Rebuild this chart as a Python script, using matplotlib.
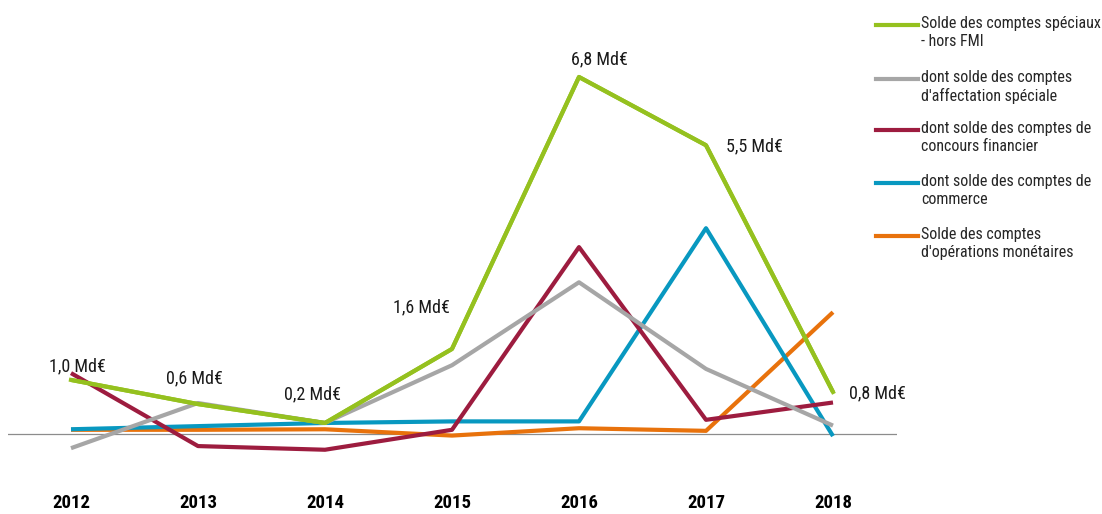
import matplotlib.pyplot as plt
from matplotlib.lines import Line2D
from matplotlib import font_manager

# data (Md€)
years = [2012, 2013, 2014, 2015, 2016, 2017, 2018]
speciaux = [1.03, 0.57, 0.21, 1.62, 6.8, 5.5, 0.8]
affectation = [-0.27, 0.59, 0.21, 1.31, 2.89, 1.24, 0.16]
concours = [1.16, -0.23, -0.30, 0.08, 3.56, 0.27, 0.60]
commerce = [0.09, 0.15, 0.21, 0.24, 0.24, 3.92, -0.04]
monetaires = [0.08, 0.08, 0.09, -0.03, 0.11, 0.06, 2.32]
value_labels = ["1,0 Md€", "0,6 Md€", "0,2 Md€", "1,6 Md€", "6,8 Md€", "5,5 Md€", "0,8 Md€"]
legend_labels = ["Solde des comptes spéciaux\n- hors FMI",
                 "dont solde des comptes\nd'affectation spéciale",
                 "dont solde des comptes de\nconcours financier",
                 "dont solde des comptes de\ncommerce",
                 "Solde des comptes\nd'opérations monétaires"]

colors = ["#95c11f", "#a6a6a6", "#9d1c3f", "#0898c0", "#e8720c"]

# look for a narrow font, the original uses Arial Narrow
installed = sorted({f.name for f in font_manager.fontManager.ttflist})
narrow = None
for cand in ["Liberation Sans Narrow", "Arial Narrow", "Roboto Condensed",
             "Open Sans Condensed", "Noto Sans Condensed", "DejaVu Sans Condensed"]:
    if cand in installed:
        narrow = cand
        break
if narrow is None:
    for n in installed:
        if "Narrow" in n or "Condensed" in n:
            narrow = n
            break
if narrow is None:
    narrow = "Roboto"
    k = 0.8
else:
    k = 1.0
NARROW = [narrow, "DejaVu Sans"]

W, H = 1102, 514
fig = plt.figure(figsize=(W / 100, H / 100), dpi=100)
ax = fig.add_axes([8 / W, 1 - 486.5 / H, 889 / W, (486.5 - 40.25) / H])
ax.set_xlim(2012 - 63 / 127, 2018 + 64 / 127)
ax.set_ylim(-1, 7.5)
for s in ax.spines.values():
    s.set_visible(False)
ax.set_yticks([])
ax.axhline(0, color="#8c8c8c", lw=0.9, zorder=1)

series = [speciaux, affectation, concours, commerce, monetaires]
for vals, c, z in zip(series[::-1], colors[::-1], range(2, 7)):
    ax.plot(years, vals, color=c, lw=3, solid_capstyle="butt", zorder=z)
ax.plot(years, speciaux, color=colors[0], lw=3, zorder=7)

ax.set_xticks(years)
ax.set_xticklabels([str(y) for y in years], family=NARROW, fontsize=13.5 * k,
                   fontweight="bold")
ax.tick_params(axis="x", length=0, pad=5.5)

# value labels on green line (offsets in pixels)
offsets = [(6, 14), (-4, 26), (-13, 29), (-31, 42), (20, 18), (48, -1), (44, -1)]
for x, y, t, (dx, dy) in zip(years, speciaux, value_labels, offsets):
    ax.annotate(t, (x, y), xytext=(dx, dy), textcoords="offset pixels",
                ha="center", va="center", family=NARROW, fontsize=13 * k,
                color="#1a1a1a")

# legend drawn by hand so handle sits on first text line
row_y = [25, 79, 130, 183, 236]
for c, lab, y in zip(colors, legend_labels, row_y):
    fig.add_artist(Line2D([876 / W, 918 / W], [1 - y / H, 1 - y / H], color=c, lw=3,
                          transform=fig.transFigure))
    fig.text(921 / W, 1 - (y - 9) / H, lab, ha="left", va="top", family=NARROW,
             fontsize=11.5 * k, color="#262626", linespacing=1.25)

fig.savefig("out.png", dpi=100)
